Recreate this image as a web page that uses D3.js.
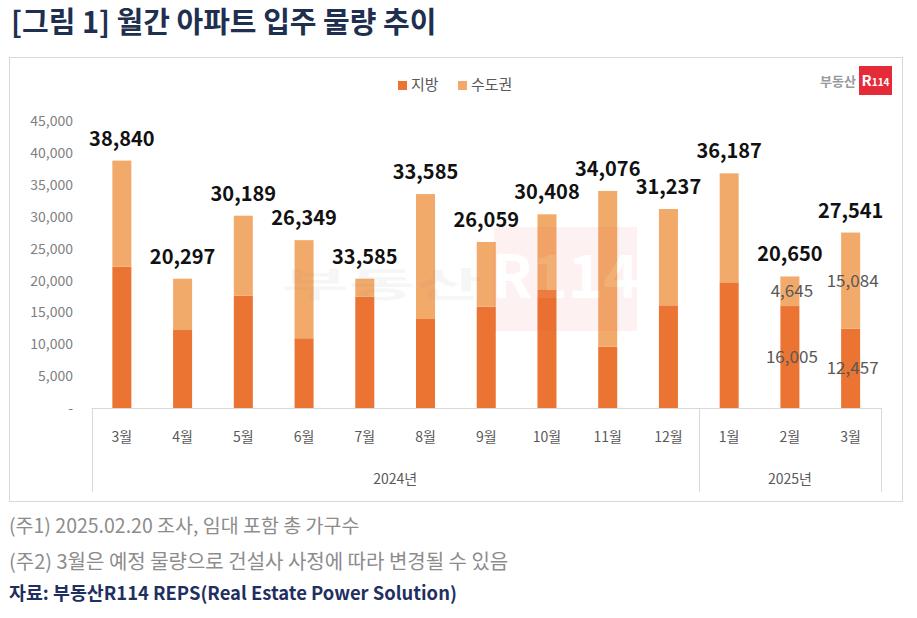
<!DOCTYPE html>
<html>
<head>
<meta charset="utf-8">
<script src="https://cdn.jsdelivr.net/npm/d3@7"></script>
<style>
  body { margin: 0; background: #fff; }
  svg { display: block; font-family: "Noto Sans CJK KR", "Noto Sans", sans-serif; }
</style>
</head>
<body>
<svg id="chart" width="917" height="618"></svg>
<script>
// data
var months = ["3월", "4월", "5월", "6월", "7월", "8월", "9월", "10월", "11월", "12월", "1월", "2월", "3월"];
var years = [{name: "2024년", count: 10}, {name: "2025년", count: 3}];
var local = [22180, 12240, 17630, 10950, 17470, 13970, 15900, 18520, 9620, 16120, 19730, 16005, 12457];   // 지방
var capital = [16660, 8057, 12559, 15399, 2830, 19615, 10159, 11888, 24456, 15117, 17110, 4645, 15084]; // 수도권
var totalLabels = ["38,840", "20,297", "30,189", "26,349", "33,585", "33,585", "26,059", "30,408", "34,076", "31,237", "36,187", "20,650", "27,541"];
var yTicks = [0, 5000, 10000, 15000, 20000, 25000, 30000, 35000, 40000, 45000];
var seriesNames = ["지방", "수도권"];
var colors = ["#EB7433", "#F2AA6B"];

var svg = d3.select("#chart");

/* title */
svg.append("text")
    .attr("x", 11)
    .attr("y", 33)
    .attr("font-size", 29)
    .attr("font-weight", "bold")
    .attr("fill", "#1F2F4F")
    .text("[그림 1] 월간 아파트 입주 물량 추이");

/* chart frame */
svg.append("rect")
    .attr("x", 9.5)
    .attr("y", 57.5)
    .attr("width", 893)
    .attr("height", 444)
    .attr("fill", "#fff")
    .attr("stroke", "#d9d9d9");

var plot = {left: 91.5, right: 881, top: 121.35, bottom: 408};

var x = d3.scaleBand()
    .domain(d3.range(months.length))
    .range([plot.left, plot.right])
    .paddingInner(0.687)
    .paddingOuter(0.3435);

var y = d3.scaleLinear()
    .domain([0, 45000])
    .range([plot.bottom, plot.top]);

/* y axis labels */
var yAxis = d3.axisLeft(y)
    .tickValues(yTicks)
    .tickSize(0)
    .tickPadding(0)
    .tickFormat(function (d) { return d === 0 ? "-" : d3.format(",")(d); });

svg.append("g")
    .attr("transform", "translate(73,0)")
    .call(yAxis)
    .call(function (g) {
        g.select(".domain").remove();
        g.selectAll("text")
            .attr("font-size", 14)
            .attr("fill", "#7f7f7f")
            .attr("font-family", "'Noto Sans CJK KR', sans-serif");
    });

/* stacked bars */
var rows = months.map(function (m, i) { return {i: i, local: local[i], capital: capital[i]}; });
var stack = d3.stack().keys(["local", "capital"])(rows);

svg.append("g")
    .selectAll("g")
    .data(stack)
    .join("g")
    .attr("fill", function (d, k) { return colors[k]; })
    .selectAll("rect")
    .data(function (d) { return d; })
    .join("rect")
    .attr("x", function (d) { return x(d.data.i); })
    .attr("width", x.bandwidth())
    .attr("y", function (d) { return y(d[1]); })
    .attr("height", function (d) { return y(d[0]) - y(d[1]); });

/* watermark */
var wm = svg.append("g").attr("opacity", 0.06);
wm.append("text")
    .attr("x", 282)
    .attr("y", 297)
    .attr("font-size", 34)
    .attr("font-weight", "bold")
    .attr("fill", "#777")
    .attr("textLength", 200)
    .attr("lengthAdjust", "spacingAndGlyphs")
    .text("부동산");
wm.append("rect")
    .attr("x", 494)
    .attr("y", 227)
    .attr("width", 143)
    .attr("height", 104)
    .attr("fill", "#E52A3A");
wm.append("text")
    .attr("x", 565)
    .attr("y", 298)
    .attr("text-anchor", "middle")
    .attr("font-size", 60)
    .attr("font-weight", "bold")
    .attr("fill", "#fff")
    .text("R114");

/* category axis */
var axis = svg.append("g").attr("stroke", "#d9d9d9").attr("fill", "none");
axis.append("line")
    .attr("x1", plot.left).attr("x2", plot.right)
    .attr("y1", plot.bottom + 0.5).attr("y2", plot.bottom + 0.5);

var bounds = [0];
years.forEach(function (yr) { bounds.push(bounds[bounds.length - 1] + yr.count); });
axis.selectAll("line.sep")
    .data(bounds)
    .join("line")
    .attr("class", "sep")
    .attr("x1", function (b) { return Math.round(plot.left + b * x.step()) + 0.5; })
    .attr("x2", function (b) { return Math.round(plot.left + b * x.step()) + 0.5; })
    .attr("y1", plot.bottom)
    .attr("y2", 492);

svg.append("g")
    .selectAll("text")
    .data(months)
    .join("text")
    .attr("x", function (d, i) { return x(i) + x.bandwidth() / 2; })
    .attr("y", 442)
    .attr("text-anchor", "middle")
    .attr("font-size", 14)
    .attr("fill", "#595959")
    .text(function (d) { return d; });

svg.append("g")
    .selectAll("text")
    .data(years)
    .join("text")
    .attr("x", function (d, k) { return plot.left + (bounds[k] + d.count / 2) * x.step(); })
    .attr("y", 484)
    .attr("text-anchor", "middle")
    .attr("font-size", 14)
    .attr("fill", "#595959")
    .text(function (d) { return d.name; });

/* total labels */
svg.append("g")
    .selectAll("text")
    .data(totalLabels)
    .join("text")
    .attr("x", function (d, i) { return x(i) + x.bandwidth() / 2; })
    .attr("y", function (d, i) { return y(local[i] + capital[i]) - 15; })
    .attr("text-anchor", "middle")
    .attr("font-size", 20)
    .attr("font-weight", "bold")
    .attr("fill", "#111")
    .text(function (d) { return d; });

/* segment labels for the last two months */
var segLabels = [];
[11, 12].forEach(function (i) {
    segLabels.push({i: i, v: local[i], mid: local[i] / 2});
    segLabels.push({i: i, v: capital[i], mid: local[i] + capital[i] / 2});
});
svg.append("g")
    .selectAll("text")
    .data(segLabels)
    .join("text")
    .attr("x", function (d) { return x(d.i) + x.bandwidth() / 2 + 2; })
    .attr("y", function (d) { return y(d.mid); })
    .attr("dy", "0.36em")
    .attr("text-anchor", "middle")
    .attr("font-size", 17)
    .attr("fill", "#595959")
    .text(function (d) { return d3.format(",")(d.v); });

/* legend */
var legend = svg.append("g").attr("transform", "translate(398,85)");
var legendItems = legend.selectAll("g")
    .data(seriesNames)
    .join("g")
    .attr("transform", function (d, k) { return "translate(" + (k * 60) + ",0)"; });
legendItems.append("rect")
    .attr("x", 0).attr("y", -4)
    .attr("width", 9).attr("height", 9)
    .attr("fill", function (d, k) { return colors[k]; });
legendItems.append("text")
    .attr("x", 13)
    .attr("y", 0)
    .attr("dy", "0.36em")
    .attr("font-size", 15)
    .attr("fill", "#595959")
    .text(function (d) { return d; });

/* logo */
svg.append("text")
    .attr("x", 856)
    .attr("y", 86)
    .attr("text-anchor", "end")
    .attr("font-size", 13)
    .attr("font-weight", "bold")
    .attr("fill", "#9a9a9a")
    .text("부동산");
svg.append("rect")
    .attr("x", 859).attr("y", 66)
    .attr("width", 33).attr("height", 29)
    .attr("fill", "#E52A3A");
var r114 = svg.append("text")
    .attr("x", 875.5)
    .attr("y", 86)
    .attr("text-anchor", "middle")
    .attr("font-weight", "bold")
    .attr("fill", "#fff");
r114.append("tspan").attr("font-size", 15).text("R");
r114.append("tspan").attr("font-size", 10).text("114");

/* footnotes */
var notes = [
    {t: "(주1) 2025.02.20 조사, 임대 포함 총 가구수", y: 533, c: "#8c8c8c", w: "normal", s: 19.5},
    {t: "(주2) 3월은 예정 물량으로 건설사 사정에 따라 변경될 수 있음", y: 569, c: "#8c8c8c", w: "normal", s: 20},
    {t: "자료: 부동산R114 REPS(Real Estate Power Solution)", y: 600, c: "#1F2F5F", w: "bold", s: 18.4}
];
svg.append("g")
    .selectAll("text")
    .data(notes)
    .join("text")
    .attr("x", 9)
    .attr("y", function (d) { return d.y; })
    .attr("font-size", function (d) { return d.s; })
    .attr("font-weight", function (d) { return d.w; })
    .attr("fill", function (d) { return d.c; })
    .text(function (d) { return d.t; });
</script>
</body>
</html>
